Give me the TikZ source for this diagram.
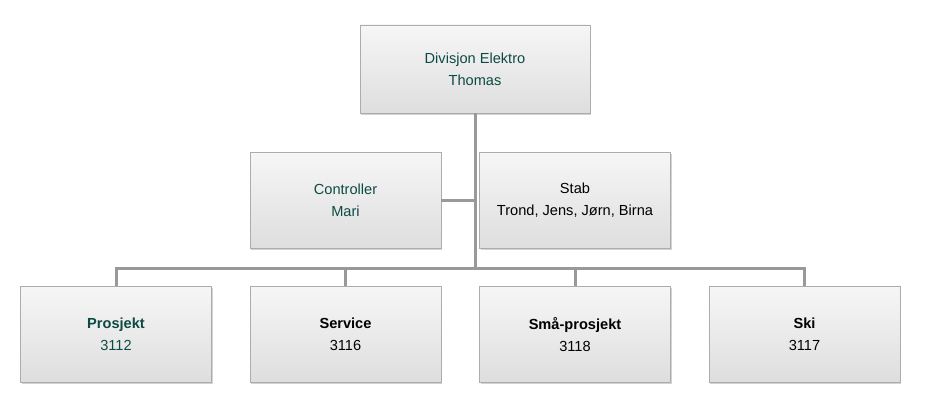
\documentclass[tikz,border=0pt]{standalone}
\usepackage{fontspec}
\setmainfont{Liberation Sans}
\usetikzlibrary{shadows}
\definecolor{boxgreen}{HTML}{0E4A44}
\definecolor{linegray}{HTML}{999999}

\begin{document}
\begin{tikzpicture}[x = 1pt, y = -1pt,
    unit/.style = {draw = gray!65, shade, top color = gray!7, bottom color = gray!26,
        drop shadow = {shadow xshift = 1.2pt, shadow yshift = -1.5pt, opacity = 0.35},
        minimum width = 191pt, minimum height = 96pt, align = center,
        font = \fontsize{14.6}{22}\selectfont, inner sep = 0pt},
    link/.style = {draw = linegray, line width = 3pt}]

\useasboundingbox (0, 0) rectangle (932, 412);

% Nodes
    \node[unit, minimum width = 230pt, minimum height = 88pt, text = boxgreen] (top) at (475, 69) {Divisjon Elektro\\Thomas};
    \node[unit, text = boxgreen] (ctrl) at (345.5, 200) {Controller\\Mari};
    \node[unit] (stab) at (575, 200) {Stab\\Trond, Jens, Jørn, Birna};
    \node[unit, text = boxgreen] (prosj) at (116, 334.5) {\textbf{Prosjekt}\\3112};
    \node[unit] (serv) at (345.5, 334.5) {\textbf{Service}\\3116};
    \node[unit] (smaa) at (575, 334.5) {\textbf{Små-prosjekt}\\3118};
    \node[unit] (ski) at (804.5, 334.5) {\textbf{Ski}\\3117};
    \coordinate (bus) at (475, 268);

% Lines
    \draw[link] (top.south) -- (bus);
    \draw[link] (ctrl.east) -- (ctrl.east -| top.south);
    \draw[link] (bus) -| (prosj.north);
    \draw[link] (bus) -| (serv.north);
    \draw[link] (bus) -| (smaa.north);
    \draw[link] (bus) -| (ski.north);

\end{tikzpicture}
\end{document}
